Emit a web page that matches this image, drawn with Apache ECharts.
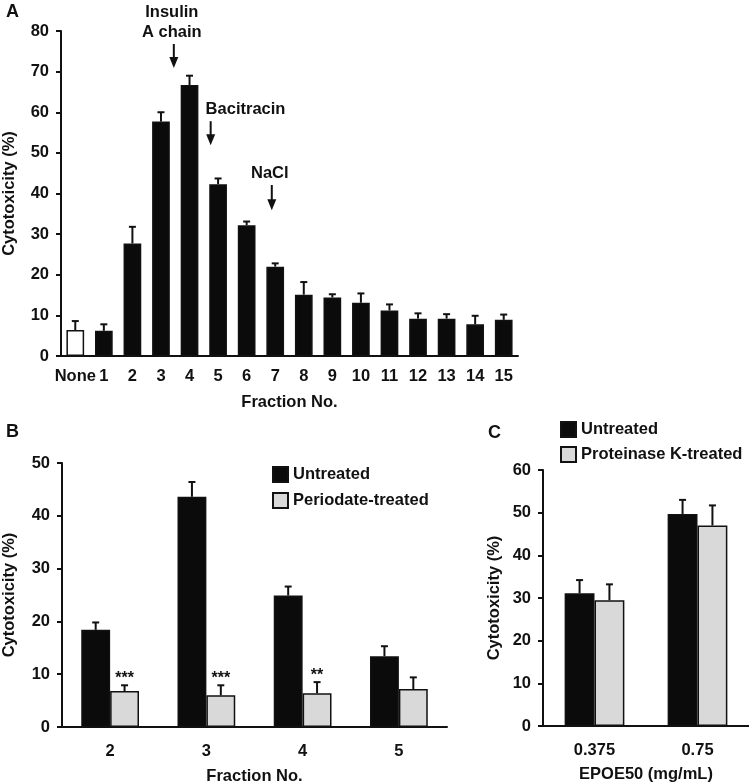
<!DOCTYPE html>
<html>
<head>
<meta charset="utf-8">
<script src="https://cdn.jsdelivr.net/npm/echarts@6/dist/echarts.min.js"></script>
<style>
html, body { margin: 0; padding: 0; background: #fff; }
#main { width: 749px; height: 784px; }
</style>
</head>
<body>
<div id="main"></div>
<script>
// ---- panel A: fractions
var fractionsA = ['None', '1', '2', '3', '4', '5', '6', '7', '8', '9', '10', '11', '12', '13', '14', '15'];
var cytoA = [6.4, 6.2, 27.7, 57.7, 66.7, 42.3, 32.2, 22.0, 15.1, 14.4, 13.1, 11.2, 9.2, 9.2, 7.8, 8.9];
var errA  = [2.2, 1.6, 4.1, 2.3, 2.3, 1.4, 0.9, 0.8, 3.1, 0.8, 2.3, 1.5, 1.3, 1.1, 2.1, 1.3];
var ticksA = [0, 80, 10];

// arrows over panel A (category position, arrow top, arrow bottom, label position)
var annoLabels = ['Insulin\nA chain', 'Bacitracin', 'NaCl'];
var annoPos    = [3.45, 4.74, 6.88];
var annoTop    = [76.8, 57.8, 42.1];
var annoBottom = [70.9, 51.9, 35.9];
var annoText   = [3.38, 5.96, 6.81];

// ---- panel B: periodate
var fractionsB = ['2', '3', '4', '5'];
var untreatedB = [18.4, 43.6, 24.9, 13.4];
var errUntreatedB = [1.4, 2.8, 1.7, 1.9];
var periodateB = [6.8, 6.0, 6.4, 7.2];
var errPeriodateB = [1.1, 1.9, 2.1, 2.2];
var starsB = ['***', '***', '**', ''];
var ticksB = [0, 50, 10];

// ---- panel C: proteinase K
var doseC = ['0.375', '0.75'];
var untreatedC = [31.1, 49.7];
var errUntreatedC = [3.1, 3.3];
var proteinaseC = [29.5, 47.0];
var errProteinaseC = [3.7, 4.7];
var ticksC = [0, 60, 10];

var FONT = '"Liberation Sans", Arial, sans-serif';
var INK = '#111';
var txt = { fontFamily: FONT, fontWeight: 'bold', fontSize: 16.5, color: INK };

var myChart = echarts.init(document.getElementById('main'));

function xAxisOf(grid, cats, name, margin, gap) {
    return {
        gridIndex: grid, type: 'category', data: cats,
        axisLine: { lineStyle: { color: INK, width: 2 } },
        axisTick: { show: false },
        axisLabel: Object.assign({ interval: 0, margin: margin }, txt),
        name: name, nameLocation: 'middle', nameGap: gap,
        nameTextStyle: txt
    };
}
function yAxisOf(grid, ticks, gap) {
    return {
        gridIndex: grid, type: 'value', min: ticks[0], max: ticks[1], interval: ticks[2],
        axisLine: { show: true, lineStyle: { color: INK, width: 2 } },
        axisTick: { show: true, length: 5, lineStyle: { color: INK, width: 2 } },
        splitLine: { show: false },
        axisLabel: Object.assign({ margin: 12 }, txt),
        name: 'Cytotoxicity (%)', nameLocation: 'middle', nameGap: gap,
        nameTextStyle: txt
    };
}

// error bar: stem + cap above bar, offset in band fraction
function errSeries(grid, vals, errs, offset, stars) {
    return {
        type: 'custom', xAxisIndex: grid, yAxisIndex: grid, z: 5, clip: false,
        silent: true,
        data: vals.map(function (v, i) { return [i, v, errs[i]]; }),
        renderItem: function (params, api) {
            var i = api.value(0), v = api.value(1), e = api.value(2);
            var band = api.size([1, 0])[0];
            var base = api.coord([i, v]);
            var top = api.coord([i, v + e]);
            var x = base[0] + offset * band;
            var kids = [
                { type: 'line', shape: { x1: x, y1: base[1], x2: x, y2: top[1] }, style: { stroke: INK, lineWidth: 2 } },
                { type: 'line', shape: { x1: x - 3.5, y1: top[1], x2: x + 3.5, y2: top[1] }, style: { stroke: INK, lineWidth: 2 } }
            ];
            if (stars && stars[params.dataIndex]) {
                kids.push({ type: 'text', style: {
                    text: stars[params.dataIndex], x: x, y: top[1] + 1,
                    align: 'center', verticalAlign: 'bottom',
                    fontFamily: FONT, fontWeight: 'bold', fontSize: 16, fill: INK
                } });
            }
            return { type: 'group', children: kids };
        }
    };
}

var option = {
    backgroundColor: '#fff',
    animation: false,
    title: [
        { text: 'A', left: 1, top: -2, textStyle: { fontFamily: FONT, fontWeight: 'bold', fontSize: 18, color: INK } },
        { text: 'B', left: 1, top: 418, textStyle: { fontFamily: FONT, fontWeight: 'bold', fontSize: 18, color: INK } },
        { text: 'C', left: 483, top: 419, textStyle: { fontFamily: FONT, fontWeight: 'bold', fontSize: 18, color: INK } }
    ],
    legend: [
        {
            data: ['Untreated', 'Periodate-treated'], orient: 'vertical',
            left: 267, top: 461, itemWidth: 15, itemHeight: 15, itemGap: 9,
            icon: 'rect', textStyle: txt, selectedMode: false
        },
        {
            data: ['Untreated', 'Proteinase K-treated'], orient: 'vertical',
            left: 555, top: 416, itemWidth: 15, itemHeight: 15, itemGap: 8,
            icon: 'rect', textStyle: txt, selectedMode: false
        }
    ],
    grid: [
        { left: 61, top: 31, width: 457, height: 325, outerBoundsMode: 'none' },
        { left: 62, top: 463, width: 385, height: 264, outerBoundsMode: 'none' },
        { left: 543, top: 470, width: 206, height: 256, outerBoundsMode: 'none' }
    ],
    xAxis: [
        xAxisOf(0, fractionsA, 'Fraction No.', 12, 38),
        xAxisOf(1, fractionsB, 'Fraction No.', 16, 41),
        xAxisOf(2, doseC, 'EPOE50 (mg/mL)', 16, 40)
    ],
    yAxis: [
        yAxisOf(0, ticksA, 43),
        yAxisOf(1, ticksB, 44),
        yAxisOf(2, ticksC, 40)
    ],
    series: [
        {
            name: 'Fractions', type: 'bar', xAxisIndex: 0, yAxisIndex: 0,
            data: cytoA, barWidth: '62%',
            itemStyle: {
                color: function (p) { return p.dataIndex === 0 ? '#fff' : '#0b0b0b'; },
                borderColor: INK, borderWidth: 1.5
            }
        },
        errSeries(0, cytoA, errA, 0, null),
        {
            name: 'Fractions-anno', type: 'custom', xAxisIndex: 0, yAxisIndex: 0, clip: false, silent: true, z: 6,
            data: annoPos.map(function (p, k) { return [Math.floor(p), annoTop[k]]; }),
            renderItem: function (params, api) {
                var k = params.dataIndex;
                var band = api.size([1, 0])[0];
                var i = Math.floor(annoPos[k]);
                var x = api.coord([i, 0])[0] + (annoPos[k] - i) * band;
                var tx = api.coord([Math.floor(annoText[k]), 0])[0] + (annoText[k] - Math.floor(annoText[k])) * band;
                var y1 = api.coord([i, annoTop[k]])[1];
                var y2 = api.coord([i, annoBottom[k]])[1];
                return { type: 'group', children: [
                    { type: 'line', shape: { x1: x, y1: y1, x2: x, y2: y2 - 8 }, style: { stroke: INK, lineWidth: 2 } },
                    { type: 'polygon', shape: { points: [[x - 4.5, y2 - 11], [x + 4.5, y2 - 11], [x, y2]] }, style: { fill: INK } },
                    { type: 'text', style: {
                        text: annoLabels[k], x: tx, y: y1 - 2, align: 'center', verticalAlign: 'bottom',
                        fontFamily: FONT, fontWeight: 'bold', fontSize: 16.5, lineHeight: 20, fill: INK
                    } }
                ] };
            }
        },
        {
            name: 'Untreated', type: 'bar', xAxisIndex: 1, yAxisIndex: 1,
            data: untreatedB, barWidth: '30%', barGap: '0%',
            itemStyle: { color: '#0b0b0b', borderColor: INK, borderWidth: 1.5 }
        },
        {
            name: 'Periodate-treated', type: 'bar', xAxisIndex: 1, yAxisIndex: 1,
            data: periodateB, barWidth: '30%', barGap: '0%',
            itemStyle: { color: '#d9d9d9', borderColor: INK, borderWidth: 1.5 }
        },
        errSeries(1, untreatedB, errUntreatedB, -0.15, null),
        errSeries(1, periodateB, errPeriodateB, 0.15, starsB),
        {
            name: 'Untreated', type: 'bar', xAxisIndex: 2, yAxisIndex: 2,
            data: untreatedC, barWidth: '29%', barGap: '0%',
            itemStyle: { color: '#0b0b0b', borderColor: INK, borderWidth: 1.5 }
        },
        {
            name: 'Proteinase K-treated', type: 'bar', xAxisIndex: 2, yAxisIndex: 2,
            data: proteinaseC, barWidth: '29%', barGap: '0%',
            itemStyle: { color: '#d9d9d9', borderColor: INK, borderWidth: 1.5 }
        },
        errSeries(2, untreatedC, errUntreatedC, -0.145, null),
        errSeries(2, proteinaseC, errProteinaseC, 0.145, null)
    ]
};
myChart.setOption(option);
</script>
</body>
</html>
